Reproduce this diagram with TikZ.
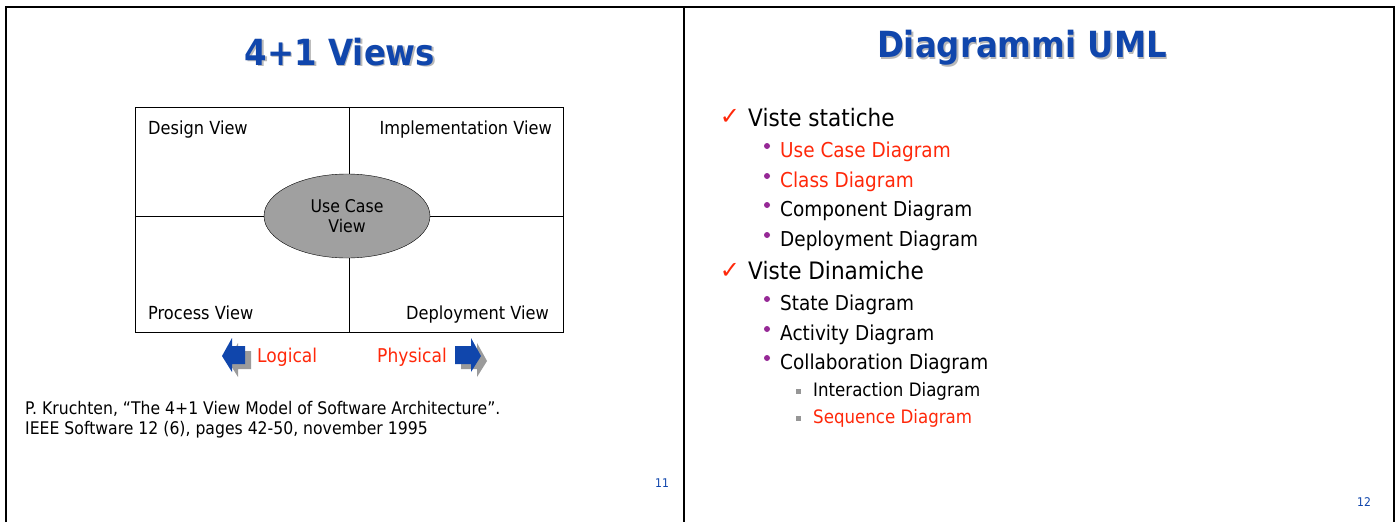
\documentclass[tikz,border=0pt]{standalone}
\usepackage{fontspec}
\setmainfont{DejaVu Sans}[FakeStretch=0.9]
\newfontfamily\symfont{DejaVu Sans}
\usetikzlibrary{positioning,shapes.geometric}

\definecolor{titleblue}{RGB}{16,70,172}
\definecolor{slidered}{RGB}{255,40,10}
\definecolor{bulletpurple}{RGB}{150,40,150}
\definecolor{ellipsegray}{RGB}{160,160,160}
\definecolor{shadowgray}{RGB}{155,155,155}
\definecolor{squaregray}{RGB}{150,150,150}

\tikzset{
  slidetitle/.style={font=\fontsize{36}{40}\selectfont\bfseries, text=titleblue, inner sep=0pt},
  titleshadow/.style={font=\fontsize{36}{40}\selectfont\bfseries, text=shadowgray!70, inner sep=0pt},
  viewlabel/.style={font=\fontsize{18}{20}\selectfont, inner sep=0pt},
  dirlabel/.style={font=\fontsize{19}{22}\selectfont, text=slidered, inner sep=0pt},
  reftext/.style={font=\fontsize{17.4}{20.5}\selectfont, inner sep=0pt, align=left},
  pagenum/.style={font=\fontsize{12}{14}\selectfont, text=titleblue, inner sep=0pt},
  topitem/.style={font=\fontsize{24}{27}\selectfont, inner sep=0pt, anchor=base west},
  item/.style={font=\fontsize{20.5}{23}\selectfont, inner sep=0pt, anchor=base west},
  subitem/.style={font=\fontsize{18.5}{21}\selectfont, inner sep=0pt, anchor=base west},
  checkmark/.style={font=\symfont\fontsize{24}{26}\selectfont, text=slidered, inner sep=0pt},
  dot/.style={circle, fill=bulletpurple, inner sep=0pt, minimum size=6pt},
  square/.style={rectangle, fill=squaregray, inner sep=0pt, minimum size=5pt},
  frameline/.style={line width=2.5pt},
}

\begin{document}
\begin{tikzpicture}[x=1pt,y=-1pt]
	\useasboundingbox (0,0) rectangle (1400,522);
	\fill[white] (0,0) rectangle (1400,522);

	% slide frames
	\draw[frameline] (6,522) -- (6,7) -- (1394,7) -- (1394,522);
	\draw[frameline] (684,7) -- (684,522);

	% ---- left slide ----
	\node[titleshadow] (ttlshadow) at (341.5,53.5) {4+1 Views};
	\node[slidetitle] (ttl) at (340,52) {4+1 Views};

	\node[draw, rectangle, inner sep=0pt, minimum width=428pt, minimum height=225pt] (grid) at (349,219.5) {};
	\node[draw, ellipse, fill=ellipsegray, inner sep=0pt, minimum width=166pt, minimum height=84pt,
	      font=\fontsize{17.5}{20}\selectfont, align=center] (ucv) at (347,216) {Use Case\\View};
	\draw (grid.north -| 349,0) -- (ucv.north -| 349,0);
	\draw (ucv.south -| 349,0) -- (grid.south -| 349,0);
	\draw (grid.west |- ucv.west) -- (ucv.west);
	\draw (ucv.east) -- (grid.east |- ucv.east);

	\node[viewlabel, anchor=base west] (design) at (148,134) {Design View};
	\node[viewlabel, anchor=base east] (impl) at (552,134) {Implementation View};
	\node[viewlabel, anchor=base west] (process) at (148,319) {Process View};
	\node[viewlabel, anchor=base east] (deploy) at (549,319) {Deployment View};

	% block arrows
	\fill[shadowgray] (228,361) -- (238,343) -- (238,351) -- (251,351) -- (251,369) -- (238,369) -- (238,377) -- cycle;
	\fill[titleblue] (222,356) -- (232,338) -- (232,346) -- (245,346) -- (245,364) -- (232,364) -- (232,372) -- cycle;
	\fill[shadowgray] (487,361) -- (477,343) -- (477,351) -- (461,351) -- (461,369) -- (477,369) -- (477,377) -- cycle;
	\fill[titleblue] (481,356) -- (471,338) -- (471,346) -- (455,346) -- (455,364) -- (471,364) -- (471,372) -- cycle;
	\node[dirlabel, anchor=base west] (logical) at (257,362.5) {Logical};
	\node[dirlabel, anchor=base east] (physical) at (447,362.5) {Physical};

	\node[reftext, anchor=north west] (ref) at (25,401) {P. Kruchten, “The 4+1 View Model of Software Architecture”.\\IEEE Software 12 (6), pages 42-50, november 1995};

	\node[pagenum] (num11) at (662,483) {11};

	% ---- right slide ----
	\node[titleshadow] (umlshadow) at (1023.5,49.5) {Diagrammi UML};
	\node[slidetitle] (uml) at (1022,48) {Diagrammi UML};

	\node[checkmark] (chk1) at (730,117) {✓};
	\node[topitem] (static) at (748,126.5) {Viste statiche};
	\node[dot] at (767,146) {};
	\node[item, text=slidered] (usecase) at (780,157.5) {Use Case Diagram};
	\node[dot] at (767,176) {};
	\node[item, text=slidered] (class) at (780,187.5) {Class Diagram};
	\node[dot] at (767,205) {};
	\node[item] (component) at (780,216.5) {Component Diagram};
	\node[dot] at (767,235) {};
	\node[item] (deployment) at (780,246.5) {Deployment Diagram};

	\node[checkmark] (chk2) at (730,271) {✓};
	\node[topitem] (dynamic) at (748,279.5) {Viste Dinamiche};
	\node[dot] at (767,299) {};
	\node[item] (state) at (780,310.5) {State Diagram};
	\node[dot] at (767,329) {};
	\node[item] (activity) at (780,340.5) {Activity Diagram};
	\node[dot] at (767,358) {};
	\node[item] (collab) at (780,369.5) {Collaboration Diagram};
	\node[square] at (798,391) {};
	\node[subitem] (interaction) at (813,396.5) {Interaction Diagram};
	\node[square] at (798,418) {};
	\node[subitem, text=slidered] (sequence) at (813,423.5) {Sequence Diagram};

	\node[pagenum] (num12) at (1364,502) {12};
\end{tikzpicture}
\end{document}
